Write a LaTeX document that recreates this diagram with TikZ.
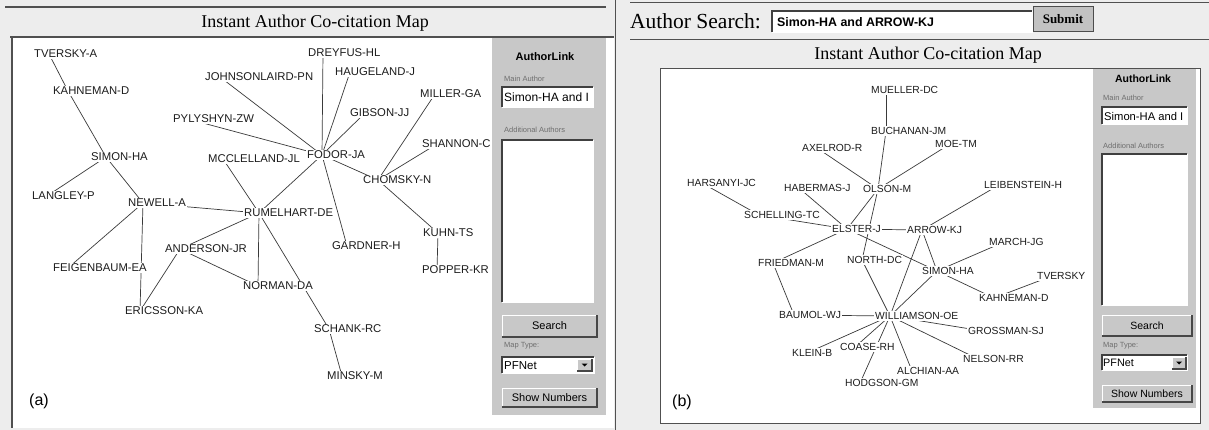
\documentclass[tikz,border=0pt]{standalone}
\usepackage{fontspec}
\setmainfont{Liberation Serif}
\setsansfont{Liberation Sans}

\pgfdeclarelayer{base}
\pgfdeclarelayer{links}
\pgfsetlayers{base,links,main}

\definecolor{pagebg}{HTML}{EDEDED}
\definecolor{panelgrey}{HTML}{C8C8C8}
\definecolor{rulegrey}{HTML}{505050}
\definecolor{linkgrey}{HTML}{3A3A3A}
\definecolor{labelink}{HTML}{1C1C1C}
\definecolor{faint}{HTML}{6E6E6E}
\definecolor{btngrey}{HTML}{C2C2C2}

\tikzset{
  lab/.style={font=\sffamily\fontsize{11.3}{12}\selectfont, text=labelink,
    fill=white, inner sep=1pt, anchor=west},
  labr/.style={lab, font=\sffamily\fontsize{10.3}{11}\selectfont},
  % the graph vertex sits 15px right of the start of each author label
  link/.style={draw=linkgrey, line width=0.7pt,
    to path={([xshift=16pt]\tikztostart.west) -- ([xshift=16pt]\tikztotarget.west)}},
  maptitle/.style={font=\rmfamily\fontsize{18}{20}\selectfont, text=black},
  paneltitle/.style={font=\sffamily\bfseries\fontsize{11}{12}\selectfont},
  tiny/.style={font=\sffamily\fontsize{7.5}{8}\selectfont, text=faint, anchor=west, inner sep=0pt},
  widget/.style={inner sep=0pt, outer sep=0pt, anchor=center},
  field/.style={widget, fill=white},
  button/.style={widget, fill=panelgrey, font=\sffamily\fontsize{11}{12}\selectfont},
  panellabel/.style={font=\sffamily\fontsize{16}{18}\selectfont},
}

\newcommand\raisedframe[1]{%
  \draw[white, line width=1pt] (#1.south west) |- (#1.north east);
  \draw[black!72, line width=1.3pt] (#1.south west) -| (#1.north east);}
\newcommand\sunkenframe[1]{%
  \draw[black!75, line width=1.2pt] (#1.south west) |- (#1.north east);
  \draw[white, line width=0.8pt] (#1.south west) -| (#1.north east);}

\begin{document}
\begin{tikzpicture}[x=1pt, y=-1pt]
\useasboundingbox (0,0) rectangle (1209,430);

% ---------------- backgrounds and frames ----------------
\begin{pgfonlayer}{base}
  \fill[pagebg] (0,0) rectangle (1209,430);
  % left window
  \fill[white] (12,37) rectangle (614,428);
  \fill[panelgrey] (492,38) rectangle (606,415);
  \draw[rulegrey, line width=1.4pt] (5,7) -- (606,7);
  \draw[rulegrey, line width=1.4pt] (10,37) -- (614,37);
  \draw[rulegrey, line width=1.4pt] (12,37) -- (12,428);
  \draw[rulegrey, line width=1pt] (615,0) -- (615,430);
  % right window
  \draw[rulegrey, line width=1pt] (630,3) -- (1209,3);
  \draw[rulegrey, line width=1pt] (630,40) -- (1209,40);
  \filldraw[fill=white, draw=rulegrey, line width=0.8pt] (660,68) rectangle (1200,423);
  \fill[panelgrey] (1093,69) rectangle (1196,408);
\end{pgfonlayer}

% ---------------- headers ----------------
\node[maptitle] (titleA) at (315,23) {Instant Author Co-citation Map};
\node[maptitle] (titleB) at (928,55) {Instant Author Co-citation Map};

\node[font=\rmfamily\fontsize{21.5}{23}\selectfont, anchor=west, inner sep=0pt]
  (searchlabel) at (630,21) {Author Search:};
\node[field, minimum width=260, minimum height=21] (query) at (902,21.5) {};
\sunkenframe{query}
\node[anchor=west, inner sep=0pt, font=\sffamily\bfseries\fontsize{12.4}{13}\selectfont]
  (querytext) at (777,22) {Simon-HA and ARROW-KJ};
\node[widget, fill=btngrey, draw=black!70, line width=1pt, minimum width=60, minimum height=25,
  font=\rmfamily\bfseries\fontsize{13}{14}\selectfont] (submit) at (1063,19.5) {Submit};

% ---------------- side panel, left map ----------------
\node[paneltitle] (linkA) at (545,57) {AuthorLink};
\node[tiny] (mainA) at (504,79) {Main Author};
\node[field, minimum width=91, minimum height=20] (fieldA) at (547.5,97) {};
\sunkenframe{fieldA}
\node[anchor=west, inner sep=0pt, font=\sffamily\fontsize{12}{12}\selectfont]
  (fieldtextA) at (504,97.5) {Simon-HA and I};
\node[tiny] (addA) at (504,130) {Additional Authors};
\node[field, minimum width=91, minimum height=162] (listA) at (547.5,221) {};
\sunkenframe{listA}
\node[button, minimum width=95, minimum height=22] (searchA) at (549.5,326) {Search};
\raisedframe{searchA}
\node[tiny] (typeA) at (504,346) {Map Type:};
\node[field, minimum width=92, minimum height=16] (dropA) at (548,365) {};
\sunkenframe{dropA}
\node[anchor=west, inner sep=0pt, font=\sffamily\fontsize{11.5}{12}\selectfont] (pfA) at (504,365.5) {PFNet};
\node[button, minimum width=15, minimum height=12] (arrowA) at (584.5,365) {};
\raisedframe{arrowA}
\fill (arrowA.center) ++(-3,-1.5) -- ++(6,0) -- ++(-3,3) -- cycle;
\node[button, minimum width=95, minimum height=19] (showA) at (549.5,397.5) {Show Numbers};
\raisedframe{showA}

% ---------------- side panel, right map ----------------
\node[paneltitle, font=\sffamily\bfseries\fontsize{10.5}{12}\selectfont] (linkB) at (1143,79) {AuthorLink};
\node[tiny] (mainB) at (1103,98) {Main Author};
\node[field, minimum width=85, minimum height=17] (fieldB) at (1144.5,115.5) {};
\sunkenframe{fieldB}
\node[anchor=west, inner sep=0pt, font=\sffamily\fontsize{11.2}{12}\selectfont]
  (fieldtextB) at (1104,116) {Simon-HA and I};
\node[tiny] (addB) at (1103,146) {Additional Authors};
\node[field, minimum width=85, minimum height=151] (listB) at (1144.5,229.5) {};
\sunkenframe{listB}
\node[button, minimum width=90, minimum height=21, font=\sffamily\fontsize{10.5}{12}\selectfont] (searchB) at (1147,325.5) {Search};
\raisedframe{searchB}
\node[tiny] (typeB) at (1103,346) {Map Type:};
\node[field, minimum width=85, minimum height=15] (dropB) at (1144.5,362.5) {};
\sunkenframe{dropB}
\node[anchor=west, inner sep=0pt, font=\sffamily\fontsize{10.8}{12}\selectfont] (pfB) at (1103,363) {PFNet};
\node[button, minimum width=14, minimum height=12] (arrowB) at (1179,363) {};
\raisedframe{arrowB}
\fill (arrowB.center) ++(-3,-1.5) -- ++(6,0) -- ++(-3,3) -- cycle;
\node[button, minimum width=90, minimum height=17, font=\sffamily\fontsize{10.5}{12}\selectfont] (showB) at (1147,393.5) {Show Numbers};
\raisedframe{showB}

% ---------------- left map: authors ----------------
\node[lab] (a-tversky)    at (33,54)   {TVERSKY-A};
\node[lab] (a-kahneman)   at (52,91)   {KAHNEMAN-D};
\node[lab] (a-simon)      at (90,157)  {SIMON-HA};
\node[lab] (a-langley)    at (31,196)  {LANGLEY-P};
\node[lab] (a-newell)     at (127,203) {NEWELL-A};
\node[lab] (a-johnson)    at (204,77)  {JOHNSONLAIRD-PN};
\node[lab] (a-pylyshyn)   at (172,119) {PYLYSHYN-ZW};
\node[lab] (a-mcclelland) at (207,159) {MCCLELLAND-JL};
\node[lab] (a-rumelhart)  at (243,213) {RUMELHART-DE};
\node[lab] (a-fodor)      at (306,155) {FODOR-JA};
\node[lab] (a-dreyfus)    at (307,53)  {DREYFUS-HL};
\node[lab] (a-haugeland)  at (334,72)  {HAUGELAND-J};
\node[lab] (a-gibson)     at (349,113) {GIBSON-JJ};
\node[lab] (a-miller)     at (419,94)  {MILLER-GA};
\node[lab] (a-shannon)    at (421,144) {SHANNON-C};
\node[lab] (a-chomsky)    at (362,180) {CHOMSKY-N};
\node[lab] (a-gardner)    at (331,246) {GARDNER-H};
\node[lab] (a-kuhn)       at (422,233) {KUHN-TS};
\node[lab] (a-popper)     at (421,270) {POPPER-KR};
\node[lab] (a-schank)     at (313,329) {SCHANK-RC};
\node[lab] (a-minsky)     at (326,376) {MINSKY-M};
\node[lab] (a-norman)     at (242,286) {NORMAN-DA};
\node[lab] (a-anderson)   at (164,249) {ANDERSON-JR};
\node[lab] (a-feigenbaum) at (52,268)  {FEIGENBAUM-EA};
\node[lab] (a-ericsson)   at (124,311) {ERICSSON-KA};

\node[panellabel] (tagA) at (39,401) {(a)};

% ---------------- right map: authors ----------------
\node[labr] (b-mueller)     at (870,90)   {MUELLER-DC};
\node[labr] (b-buchanan)    at (870,131)  {BUCHANAN-JM};
\node[labr] (b-axelrod)     at (801,148)  {AXELROD-R};
\node[labr] (b-moe)         at (934,144)  {MOE-TM};
\node[labr] (b-harsanyi)    at (686,183)  {HARSANYI-JC};
\node[labr] (b-habermas)    at (783,188)  {HABERMAS-J};
\node[labr] (b-olson)       at (862,189)  {OLSON-M};
\node[labr] (b-leibenstein) at (983,185)  {LEIBENSTEIN-H};
\node[labr] (b-schelling)   at (743,215)  {SCHELLING-TC};
\node[labr] (b-elster)      at (831,229)  {ELSTER-J};
\node[labr] (b-arrow)       at (906,230)  {ARROW-KJ};
\node[labr] (b-friedman)    at (757,263)  {FRIEDMAN-M};
\node[labr] (b-north)       at (846,260)  {NORTH-DC};
\node[labr] (b-simon)       at (921,271)  {SIMON-HA};
\node[labr] (b-march)       at (988,242)  {MARCH-JG};
\node[labr] (b-tversky)     at (1036,276) {TVERSKY};
\node[labr] (b-kahneman)    at (978,298)  {KAHNEMAN-D};
\node[labr] (b-baumol)      at (778,315)  {BAUMOL-WJ};
\node[labr] (b-williamson)  at (874,316)  {WILLIAMSON-OE};
\node[labr] (b-grossman)    at (967,331)  {GROSSMAN-SJ};
\node[labr] (b-klein)       at (791,353)  {KLEIN-B};
\node[labr] (b-coase)       at (839,347)  {COASE-RH};
\node[labr] (b-nelson)      at (962,359)  {NELSON-RR};
\node[labr] (b-alchian)     at (896,371)  {ALCHIAN-AA};
\node[labr] (b-hodgson)     at (844,383)  {HODGSON-GM};

\node[panellabel] (tagB) at (682,402) {(b)};

% ---------------- links ----------------
\begin{pgfonlayer}{links}
  \foreach \u/\v in {
      a-tversky/a-kahneman, a-kahneman/a-simon, a-simon/a-langley, a-simon/a-newell,
      a-newell/a-rumelhart, a-newell/a-feigenbaum, a-newell/a-ericsson,
      a-anderson/a-ericsson, a-anderson/a-rumelhart, a-anderson/a-norman,
      a-rumelhart/a-norman, a-rumelhart/a-schank, a-schank/a-minsky,
      a-rumelhart/a-mcclelland, a-rumelhart/a-fodor,
      a-fodor/a-johnson, a-fodor/a-pylyshyn, a-fodor/a-dreyfus, a-fodor/a-haugeland,
      a-fodor/a-gibson, a-fodor/a-chomsky, a-fodor/a-gardner,
      a-chomsky/a-miller, a-chomsky/a-shannon, a-chomsky/a-kuhn, a-kuhn/a-popper}
    \draw[link] (\u) to (\v);
  \foreach \u/\v in {
      b-mueller/b-buchanan, b-buchanan/b-olson, b-axelrod/b-olson, b-moe/b-olson,
      b-olson/b-elster, b-olson/b-north,
      b-harsanyi/b-schelling, b-habermas/b-elster, b-schelling/b-elster,
      b-elster/b-friedman, b-elster/b-arrow, b-elster/b-simon,
      b-friedman/b-baumol, b-baumol/b-williamson,
      b-arrow/b-leibenstein, b-arrow/b-simon, b-arrow/b-williamson,
      b-simon/b-williamson, b-simon/b-march, b-simon/b-kahneman, b-kahneman/b-tversky,
      b-williamson/b-north, b-williamson/b-grossman, b-williamson/b-nelson,
      b-williamson/b-alchian, b-williamson/b-coase, b-williamson/b-hodgson,
      b-williamson/b-klein}
    \draw[link] (\u) to (\v);
\end{pgfonlayer}
\end{tikzpicture}
\end{document}
